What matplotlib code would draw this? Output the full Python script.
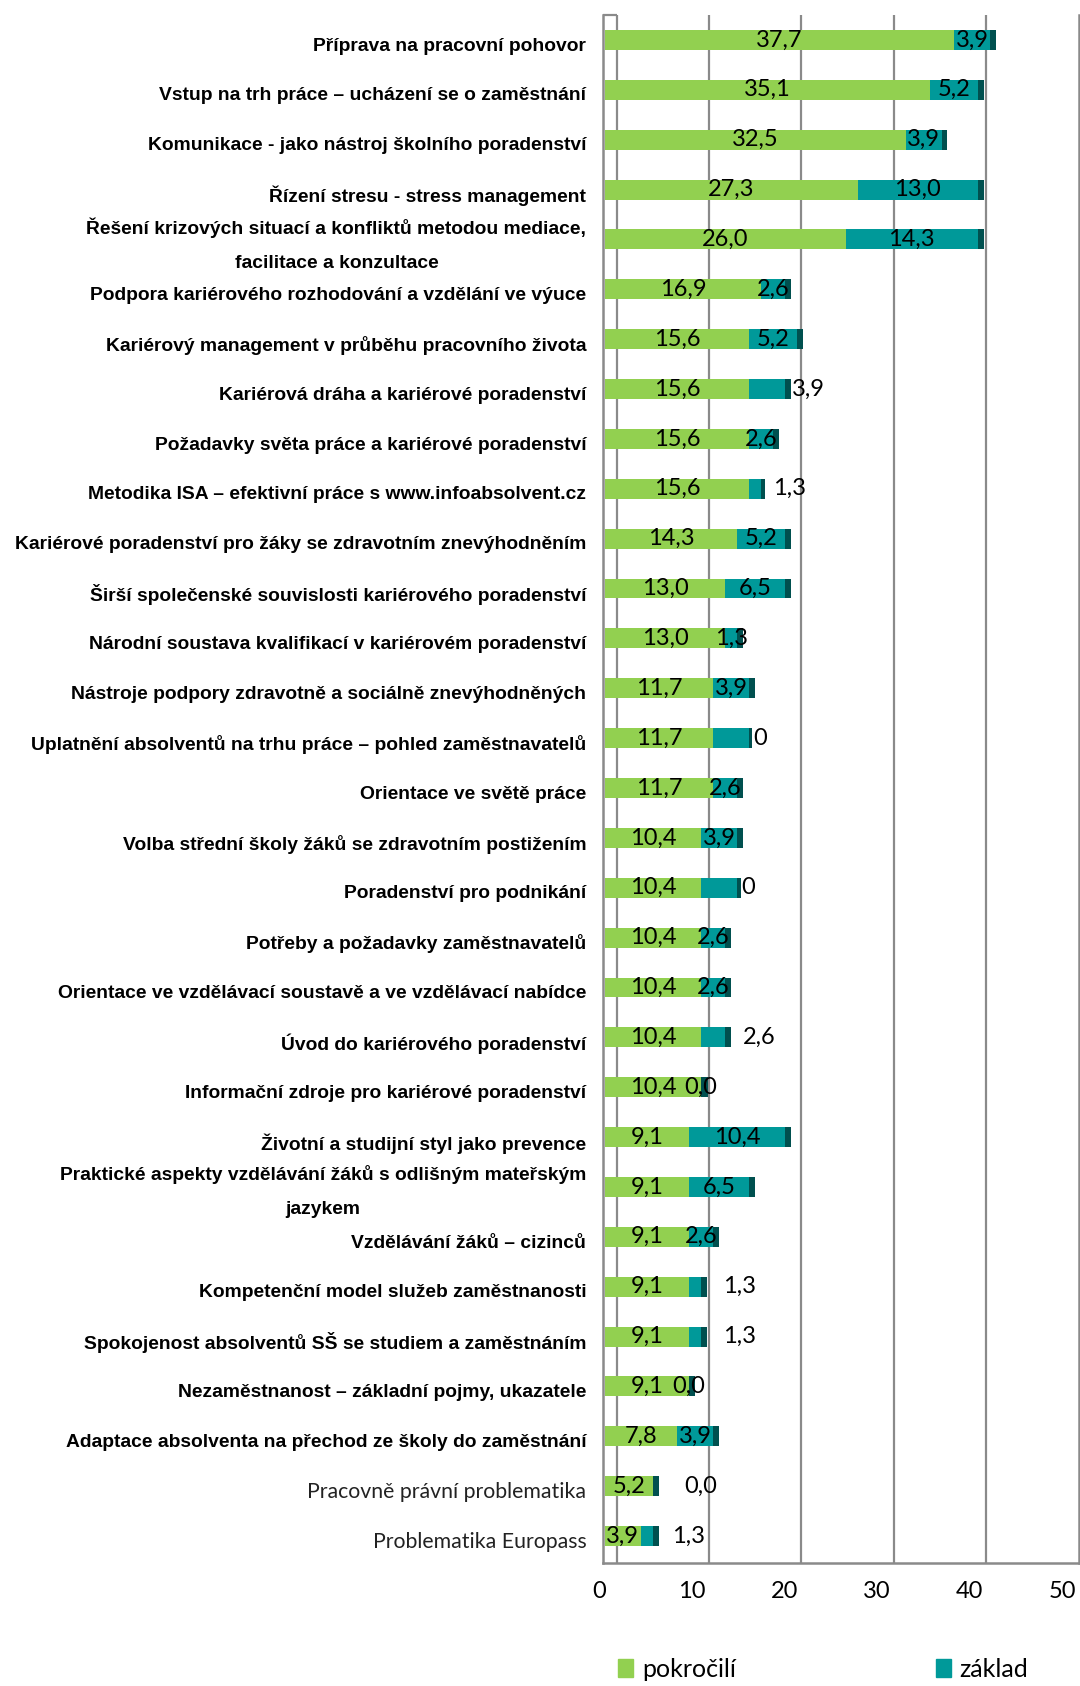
import matplotlib
matplotlib.use("Agg")
import matplotlib.pyplot as plt
import matplotlib.transforms as mtransforms
from matplotlib.patches import Patch
import numpy as np

# Témata vzdělávacích programů, shora dolů
temata = [
    "Příprava na pracovní pohovor",
    "Vstup na trh práce – ucházení se o zaměstnání",
    "Komunikace - jako nástroj školního poradenství",
    "Řízení stresu - stress management",
    "Řešení krizových situací a konfliktů metodou mediace,\nfacilitace a konzultace",
    "Podpora kariérového rozhodování a vzdělání ve výuce",
    "Kariérový management v průběhu pracovního života",
    "Kariérová dráha a kariérové poradenství",
    "Požadavky světa práce a kariérové poradenství",
    "Metodika ISA – efektivní práce s www.infoabsolvent.cz",
    "Kariérové poradenství pro žáky se zdravotním znevýhodněním",
    "Širší společenské souvislosti kariérového poradenství",
    "Národní soustava kvalifikací v kariérovém poradenství",
    "Nástroje podpory zdravotně a sociálně znevýhodněných",
    "Uplatnění absolventů na trhu práce – pohled zaměstnavatelů",
    "Orientace ve světě práce",
    "Volba střední školy žáků se zdravotním postižením",
    "Poradenství pro podnikání",
    "Potřeby a požadavky zaměstnavatelů",
    "Orientace ve vzdělávací soustavě a ve vzdělávací nabídce",
    "Úvod do kariérového poradenství",
    "Informační zdroje pro kariérové poradenství",
    "Životní a studijní styl jako prevence",
    "Praktické aspekty vzdělávání žáků s odlišným mateřským\njazykem",
    "Vzdělávání žáků – cizinců",
    "Kompetenční model služeb zaměstnanosti",
    "Spokojenost absolventů SŠ se studiem a zaměstnáním",
    "Nezaměstnanost – základní pojmy, ukazatele",
    "Adaptace absolventa na přechod ze školy do zaměstnání",
    "Pracovně právní problematika",
    "Problematika Europass",
]

pokrocili = [37.7, 35.1, 32.5, 27.3, 26.0, 16.9, 15.6, 15.6, 15.6, 15.6,
             14.3, 13.0, 13.0, 11.7, 11.7, 11.7, 10.4, 10.4, 10.4, 10.4,
             10.4, 10.4, 9.1, 9.1, 9.1, 9.1, 9.1, 9.1, 7.8, 5.2, 3.9]

zaklad = [3.9, 5.2, 3.9, 13.0, 14.3, 2.6, 5.2, 3.9, 2.6, 1.3,
          5.2, 6.5, 1.3, 3.9, 3.9, 2.6, 3.9, 3.9, 2.6, 2.6,
          2.6, 0.0, 10.4, 6.5, 2.6, 1.3, 1.3, 0.0, 3.9, 0.0, 1.3]

# třetí řada (bez popisku v legendě) - úzký tmavý konec každého pruhu
ostatni = [0.6, 0.6, 0.6, 0.6, 0.6, 0.6, 0.6, 0.6, 0.6, 0.4,
           0.6, 0.6, 0.6, 0.6, 0.3, 0.6, 0.6, 0.4, 0.6, 0.6,
           0.6, 0.7, 0.6, 0.6, 0.6, 0.6, 0.6, 0.6, 0.6, 0.6, 0.6]

# popisky řady "základ", které stojí vpravo za pruhem (index -> mezera)
popisky_venku = {7: 0.1, 9: 0.9, 14: 0.1, 17: 0.0, 20: 1.3, 25: 1.8,
                 26: 1.8, 29: 2.8, 30: 1.4}
popisky_text = {14: "0", 17: "0"}

x_ticks = [0, 10, 20, 30, 40, 50]
mrizka = [1.3, 11.2, 21.2, 31.2, 41.2]

ZELENA = "#92D050"
TYRKYS = "#009999"
TMAVA = "#00504F"
SEDA = "#8a8a8a"
PISMO = ["Lato", "DejaVu Sans"]


def cislo(v):
    return f"{v:.1f}".replace(".", ",")


W, H = 1080, 1686
fig = plt.figure(figsize=(W / 100, H / 100), dpi=100)
ax = fig.add_axes([603 / W, 1 - 1563 / H, (1078.5 - 603) / W, (1563 - 15) / H])

y = np.arange(len(temata))
konec_p = np.array(pokrocili)
konec_z = konec_p + np.array(zaklad)
ax.barh(y, pokrocili, height=0.4, color=ZELENA, zorder=2)
ax.barh(y, zaklad, left=konec_p, height=0.4, color=TYRKYS, zorder=2)
ax.barh(y, ostatni, left=konec_z, height=0.4, color=TMAVA, zorder=2)

popisek = dict(fontsize=17, family=PISMO, color="black", va="center", zorder=3)
for i in y:
    p, z, o = pokrocili[i], zaklad[i], ostatni[i]
    ax.text(p / 2, i, cislo(p), ha="center", **popisek)
    txt = popisky_text.get(i, cislo(z))
    if i in popisky_venku:
        ax.text(p + z + o + popisky_venku[i], i, txt, ha="left", **popisek)
    else:
        ax.text(p + z / 2, i, txt, ha="center", **popisek)

for gx in mrizka:
    ax.axvline(gx, color=SEDA, lw=1.6, zorder=1)

ax.set_xlim(-0.2, (1078.5 - 605) / 9.257)
ax.set_ylim(len(temata) - 1 + 0.54, -0.5)
ax.hlines(-0.5, -0.2, mrizka[0], color=SEDA, lw=1.6, clip_on=False)

for side in ("left", "bottom", "right"):
    ax.spines[side].set_color(SEDA)
    ax.spines[side].set_linewidth(1.8)
ax.spines["top"].set_visible(False)

ax.set_xticks(x_ticks, [str(t) for t in x_ticks])
ax.tick_params(axis="x", length=0, pad=13, labelsize=17)
posun = mtransforms.ScaledTranslation(-4 / 72, 0, fig.dpi_scale_trans)
for lbl in ax.get_xticklabels():
    lbl.set_fontfamily(PISMO)
    lbl.set_transform(lbl.get_transform() + posun)

ax.set_yticks(y, temata)
ax.tick_params(axis="y", length=0, pad=12)
for i, lbl in enumerate(ax.get_yticklabels()):
    lbl.set_multialignment("center")
    # dvouřádkové popisky sedí o kus výš než jednořádkové
    dy = 4 if "\n" in temata[i] else -3
    lbl.set_transform(lbl.get_transform() +
                      mtransforms.ScaledTranslation(0, dy / 72, fig.dpi_scale_trans))
    if i >= len(temata) - 2:
        lbl.set_fontfamily(PISMO)
        lbl.set_fontsize(15.3)
        lbl.set_color("#222222")
    else:
        lbl.set_fontfamily(["Liberation Sans", "DejaVu Sans"])
        lbl.set_fontweight("bold")
        lbl.set_fontsize(13.9)
        lbl.set_linespacing(2.3)

fig.legend(handles=[Patch(color=ZELENA, label="pokročilí"),
                    Patch(color=TYRKYS, label="základ")],
           loc="upper left", bbox_to_anchor=(618 / W, 1 - 1658 / H),
           ncol=2, frameon=False, prop={"family": PISMO, "size": 18},
           handlelength=0.6, handleheight=0.75, handletextpad=0.35,
           columnspacing=8, borderpad=0, borderaxespad=0)

fig.savefig("out.png", dpi=100)
